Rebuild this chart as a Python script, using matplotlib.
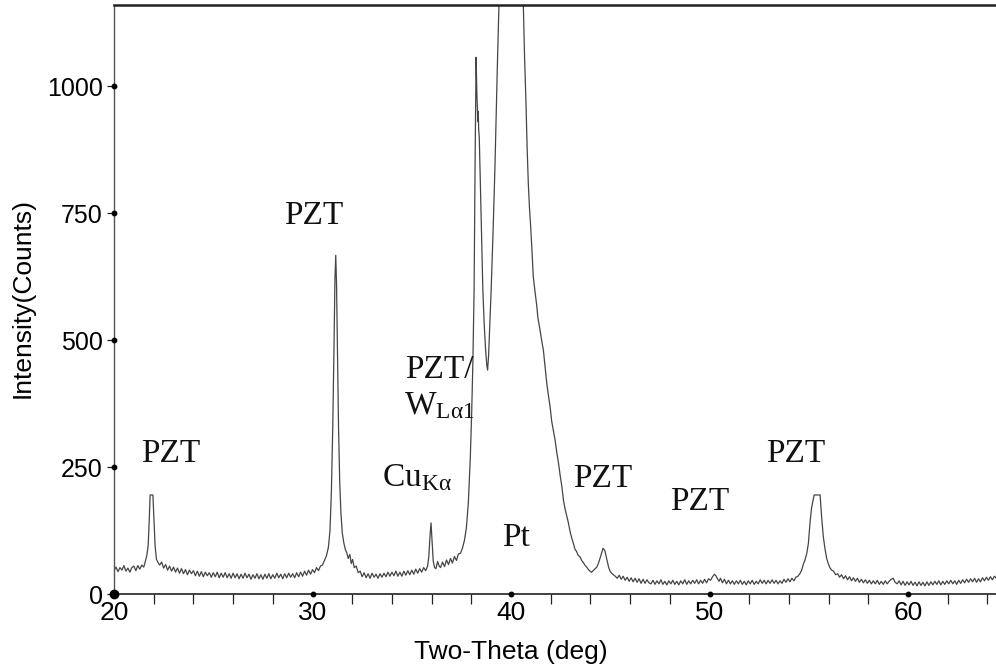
import numpy as np
import matplotlib
matplotlib.use("Agg")
import matplotlib.pyplot as plt
from matplotlib.ticker import MultipleLocator

plt.rcParams['font.family'] = ['Liberation Sans', 'DejaVu Sans']
plt.rcParams['mathtext.fontset'] = 'custom'
plt.rcParams['mathtext.rm'] = 'Liberation Serif'
plt.rcParams['mathtext.it'] = 'Liberation Serif:italic'

# XRD scan, (two-theta in deg, intensity in counts), split by angular region
scan_20_30 = [
    (20.0, 46), (20.1, 53), (20.2, 44), (20.3, 52), (20.4, 47), (20.5, 56), (20.6, 45), (20.7, 51),
    (20.8, 43), (20.9, 52), (21.0, 55), (21.1, 46), (21.2, 56), (21.3, 49), (21.4, 57), (21.5, 53),
    (21.55, 60), (21.65, 75), (21.72, 95), (21.78, 150), (21.82, 195), (21.96, 195), (22.01, 150),
    (22.07, 95), (22.14, 68), (22.22, 62), (22.3, 57), (22.4, 63), (22.5, 51), (22.6, 58), (22.7, 47),
    (22.8, 55), (22.9, 45), (23.0, 53), (23.1, 43), (23.2, 51), (23.3, 41), (23.4, 50), (23.5, 40),
    (23.6, 48), (23.7, 38), (23.8, 47), (23.9, 40), (24.0, 46), (24.1, 36), (24.2, 45), (24.3, 35),
    (24.4, 44), (24.5, 34), (24.6, 43), (24.7, 36), (24.8, 42), (24.9, 33), (25.0, 42), (25.1, 34),
    (25.2, 43), (25.3, 32), (25.4, 41), (25.5, 33), (25.6, 42), (25.7, 32), (25.8, 40), (25.9, 31),
    (26.0, 41), (26.1, 32), (26.2, 40), (26.3, 30), (26.4, 39), (26.5, 31), (26.6, 41), (26.7, 32),
    (26.8, 39), (26.9, 29), (27.0, 38), (27.1, 31), (27.2, 40), (27.3, 30), (27.4, 38), (27.5, 29),
    (27.6, 39), (27.7, 31), (27.8, 40), (27.9, 30), (28.0, 38), (28.1, 31), (28.2, 41), (28.3, 32),
    (28.4, 39), (28.5, 30), (28.6, 40), (28.7, 32), (28.8, 41), (28.9, 33), (29.0, 40), (29.1, 32),
    (29.2, 42), (29.3, 34), (29.4, 43), (29.5, 35), (29.6, 45), (29.7, 37), (29.8, 47), (29.9, 39),
]
scan_30_37 = [
    (30.0, 48), (30.1, 42), (30.2, 52), (30.3, 46), (30.4, 55), (30.5, 57), (30.6, 66), (30.7, 75),
    (30.8, 92), (30.88, 125), (30.95, 200), (31.02, 330), (31.08, 480), (31.13, 620), (31.17, 667),
    (31.21, 610), (31.26, 470), (31.31, 330), (31.37, 220), (31.43, 160), (31.5, 120), (31.58, 100),
    (31.65, 88), (31.72, 82), (31.8, 70), (31.88, 78), (31.95, 60), (32.02, 68), (32.1, 52), (32.2, 55),
    (32.3, 42), (32.4, 45), (32.5, 34), (32.6, 42), (32.7, 32), (32.8, 40), (32.9, 31), (33.0, 41),
    (33.1, 33), (33.2, 39), (33.3, 31), (33.4, 40), (33.5, 33), (33.6, 41), (33.7, 34), (33.8, 43),
    (33.9, 35), (34.0, 43), (34.1, 36), (34.2, 45), (34.3, 35), (34.4, 43), (34.5, 35), (34.6, 45),
    (34.7, 37), (34.8, 46), (34.9, 38), (35.0, 47), (35.1, 39), (35.2, 49), (35.3, 41), (35.4, 50),
    (35.5, 43), (35.6, 52), (35.7, 46), (35.8, 55), (35.86, 75), (35.92, 115), (35.97, 140),
    (36.02, 105), (36.08, 65), (36.15, 52), (36.22, 50), (36.3, 64), (36.38, 55), (36.45, 52),
    (36.55, 63), (36.65, 54), (36.75, 67), (36.85, 58), (36.95, 70),
]
scan_37_46 = [
    (37.05, 61), (37.15, 74), (37.25, 66), (37.35, 79), (37.45, 80), (37.55, 90), (37.65, 105),
    (37.75, 130), (37.85, 180), (37.95, 270), (38.02, 360), (38.08, 460), (38.14, 600), (38.19, 850),
    (38.24, 1057), (38.28, 985), (38.31, 955), (38.33, 930), (38.35, 950), (38.37, 915), (38.40, 900),
    (38.46, 800), (38.52, 700), (38.58, 600), (38.65, 530), (38.72, 480), (38.78, 450), (38.82, 441),
    (38.87, 470), (38.93, 530), (39.0, 600), (39.1, 720), (39.19, 841), (39.31, 1038), (39.39, 1160),
    (39.5, 1300), (39.7, 1400), (40.0, 1420), (40.3, 1380), (40.5, 1260), (40.62, 1160), (40.68, 1060),
    (40.75, 972), (40.81, 880), (40.87, 809), (40.93, 760), (40.99, 723), (41.05, 680), (41.12, 625),
    (41.2, 598), (41.29, 570), (41.35, 545), (41.46, 520), (41.55, 498), (41.63, 480), (41.72, 445),
    (41.8, 415), (41.88, 392), (41.97, 368), (42.05, 340), (42.12, 325), (42.22, 303), (42.3, 280),
    (42.39, 258), (42.48, 232), (42.56, 212), (42.64, 185), (42.72, 168), (42.8, 155), (42.89, 140),
    (42.98, 122), (43.06, 110), (43.14, 100), (43.22, 88), (43.3, 84), (43.38, 76), (43.48, 73),
    (43.56, 66), (43.64, 62), (43.72, 57), (43.81, 53), (43.9, 48), (43.98, 45), (44.06, 43),
    (44.14, 46), (44.22, 49), (44.32, 53), (44.4, 60), (44.48, 70), (44.56, 80), (44.63, 90),
    (44.68, 88), (44.73, 85), (44.78, 76), (44.85, 64), (44.92, 52), (45.0, 44), (45.07, 41),
    (45.15, 38), (45.25, 35), (45.35, 31), (45.45, 37), (45.55, 29), (45.65, 35), (45.75, 27),
    (45.85, 33), (45.95, 25),
]
scan_46_56 = [
    (46.05, 32), (46.15, 24), (46.25, 31), (46.35, 23), (46.45, 30), (46.55, 21), (46.65, 29),
    (46.75, 21), (46.85, 28), (46.95, 22), (47.05, 20), (47.15, 27), (47.25, 19), (47.35, 26),
    (47.45, 20), (47.55, 28), (47.65, 19), (47.75, 25), (47.85, 18), (47.95, 26), (48.05, 20),
    (48.15, 27), (48.25, 19), (48.35, 25), (48.45, 18), (48.55, 26), (48.65, 20), (48.75, 28),
    (48.85, 19), (48.95, 26), (49.05, 20), (49.15, 27), (49.25, 21), (49.35, 28), (49.45, 20),
    (49.55, 27), (49.65, 21), (49.75, 29), (49.85, 22), (49.95, 30), (50.05, 27), (50.15, 34),
    (50.25, 39), (50.32, 36), (50.4, 30), (50.48, 25), (50.55, 31), (50.65, 22), (50.75, 29),
    (50.85, 20), (50.95, 27), (51.05, 20), (51.15, 26), (51.25, 19), (51.35, 26), (51.45, 20),
    (51.55, 27), (51.65, 19), (51.75, 25), (51.85, 18), (51.95, 26), (52.05, 20), (52.15, 27),
    (52.25, 19), (52.35, 25), (52.45, 20), (52.55, 28), (52.65, 21), (52.75, 27), (52.85, 20),
    (52.95, 27), (53.05, 21), (53.15, 28), (53.25, 21), (53.35, 27), (53.45, 20), (53.55, 26),
    (53.65, 21), (53.75, 29), (53.85, 23), (53.95, 30), (54.05, 24), (54.15, 31), (54.25, 26),
    (54.35, 33), (54.45, 35), (54.55, 40), (54.64, 47), (54.72, 58), (54.8, 66), (54.9, 80),
    (54.98, 100), (55.06, 140), (55.14, 170), (55.27, 195), (55.57, 195), (55.65, 150), (55.73, 113),
    (55.82, 88), (55.9, 70), (55.98, 60),
]
scan_56_65 = [
    (56.06, 52), (56.15, 47), (56.25, 45), (56.35, 38), (56.45, 40), (56.55, 33), (56.65, 38),
    (56.75, 30), (56.85, 36), (56.95, 28), (57.05, 34), (57.15, 26), (57.25, 32), (57.35, 25),
    (57.45, 31), (57.55, 23), (57.65, 29), (57.75, 22), (57.85, 28), (57.95, 21), (58.05, 27),
    (58.15, 20), (58.25, 26), (58.35, 20), (58.45, 27), (58.55, 19), (58.65, 25), (58.75, 19),
    (58.85, 26), (58.95, 20), (59.05, 25), (59.15, 29), (59.25, 31), (59.35, 23), (59.45, 20),
    (59.55, 26), (59.65, 18), (59.75, 25), (59.85, 17), (59.95, 24), (60.05, 18), (60.15, 25),
    (60.25, 17), (60.35, 23), (60.45, 16), (60.55, 24), (60.65, 17), (60.75, 23), (60.85, 16),
    (60.95, 24), (61.05, 17), (61.15, 24), (61.25, 18), (61.35, 25), (61.45, 19), (61.55, 26),
    (61.65, 18), (61.75, 25), (61.85, 19), (61.95, 26), (62.05, 20), (62.15, 27), (62.25, 20),
    (62.35, 26), (62.45, 19), (62.55, 27), (62.65, 21), (62.75, 28), (62.85, 22), (62.95, 29),
    (63.05, 23), (63.15, 30), (63.25, 24), (63.35, 31), (63.45, 23), (63.55, 30), (63.65, 24),
    (63.75, 32), (63.85, 26), (63.95, 33), (64.05, 27), (64.15, 34), (64.25, 28), (64.35, 35),
    (64.45, 31),
]

x_major_ticks = [20, 30, 40, 50, 60]
y_major_ticks = [0, 250, 500, 750, 1000]

# Peak labels: (text, two-theta, counts) for the text's left baseline
peak_labels = [
    ("PZT", 21.36, 260),
    ("PZT", 28.56, 728),
    (r"Cu$_{\mathrm{K\alpha}}$", 33.50, 213),
    ("PZT/", 34.66, 425),
    (r"W$_{\mathrm{L\alpha 1}}$", 34.61, 354),
    ("Pt", 39.55, 94),
    ("PZT", 43.12, 211),
    ("PZT", 48.01, 165),
    ("PZT", 52.84, 260),
]

scan = np.array(scan_20_30 + scan_30_37 + scan_37_46 + scan_46_56 + scan_56_65)
two_theta, counts = scan[:, 0], scan[:, 1]

fig = plt.figure(figsize=(9.96, 6.68), dpi=100)
ax = fig.add_axes([114 / 996, 74 / 668, 882 / 996, 589 / 668])

ax.plot(two_theta, counts, color='#454545', lw=0.9)
ax.set_xlim(20, 64.43)
ax.set_ylim(0, 1160)

# axis frame: left, bottom and top only
ax.spines['right'].set_visible(False)
ax.spines['top'].set_color('#222222')
ax.spines['top'].set_linewidth(1.8)
ax.spines['bottom'].set_color('#222222')
ax.spines['bottom'].set_linewidth(1.2)
ax.spines['left'].set_color('#555555')
ax.spines['left'].set_linewidth(1.0)

ax.set_xticks(x_major_ticks)
ax.xaxis.set_minor_locator(MultipleLocator(2))
ax.set_yticks(y_major_ticks)
ax.tick_params(axis='x', which='major', length=0, pad=5, labelsize=19)
ax.tick_params(axis='x', which='minor', length=7, width=0.9, color='#222222', direction='out')
ax.tick_params(axis='y', which='major', length=5, width=0.9, color='#222222', pad=3, labelsize=18)
ax.tick_params(top=False, right=False, which='both')

# dots on the axes at the major ticks
ax.plot(x_major_ticks[1:], [0] * (len(x_major_ticks) - 1), 'o', color='black', ms=3.2, clip_on=False, zorder=5)
ax.plot([20] * (len(y_major_ticks) - 1), y_major_ticks[1:], 'o', color='black', ms=3.2, clip_on=False, zorder=5)
ax.plot([20], [0], 'o', color='black', ms=6, clip_on=False, zorder=6)

ax.set_xlabel("Two-Theta (deg)", fontsize=19, va='center')
ax.xaxis.set_label_coords(0.45, -0.0985)
ax.set_ylabel("Intensity(Counts)", fontsize=19, va='center')
ax.yaxis.set_label_coords(-0.104, 0.5025)

for text, tx, ty in peak_labels:
    ax.text(tx, ty, text, family='Liberation Serif', fontsize=24, ha='left', va='baseline', color='#111111')

fig.savefig("out.png", dpi=100)
